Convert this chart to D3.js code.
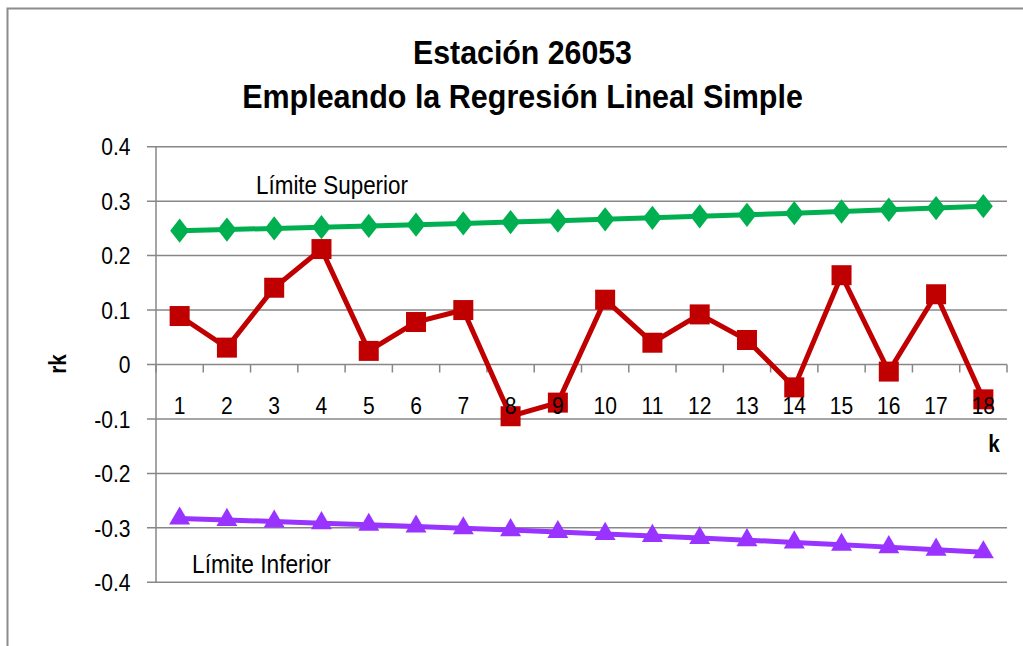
<!DOCTYPE html>
<html>
<head>
<meta charset="utf-8">
<script src="https://cdn.jsdelivr.net/npm/d3@7/dist/d3.min.js"></script>
<style>
  html, body { margin: 0; padding: 0; background: #fff; }
  svg { display: block; }
  text { font-family: "Liberation Sans", Arial, sans-serif; fill: #000; }
</style>
</head>
<body>
<svg id="chart" width="1023" height="646"></svg>
<script>
const categories = ["1","2","3","4","5","6","7","8","9","10","11","12","13","14","15","16","17","18"];
const rk = [0.089, 0.031, 0.141, 0.212, 0.025, 0.078, 0.100, -0.095, -0.070, 0.119, 0.040, 0.092, 0.045, -0.042, 0.164, -0.013, 0.129, -0.064];
const limiteSuperior = [0.2457, 0.2478, 0.2499, 0.2521, 0.2544, 0.2567, 0.2591, 0.2616, 0.2641, 0.2667, 0.2694, 0.2721, 0.2750, 0.2780, 0.2810, 0.2842, 0.2874, 0.2908];
const limiteInferior = [-0.2828, -0.2855, -0.2884, -0.2914, -0.2944, -0.2975, -0.3008, -0.3041, -0.3076, -0.3111, -0.3148, -0.3187, -0.3226, -0.3267, -0.3310, -0.3354, -0.3401, -0.3449];
const yTicks = [-0.4, -0.3, -0.2, -0.1, 0, 0.1, 0.2, 0.3, 0.4];
const yTickLabels = ["-0.4", "-0.3", "-0.2", "-0.1", "0", "0.1", "0.2", "0.3", "0.4"];
const titleLines = ["Estación 26053", "Empleando la Regresión Lineal Simple"];

const svg = d3.select("#chart");
const gray = "#878787";
const NARROW = 0.86;

// helper: put a text at (x,y) horizontally compressed
function place(sel, fx, fy, sx) {
  sel.attr("x", 0).attr("y", 0)
     .attr("transform", (d, i) => `translate(${fx(d, i)},${fy(d, i)}) scale(${sx},1)`);
}
// helper: fit a text to a target width
function fit(t, cxPos, yPos, width) {
  const w = t.node().getComputedTextLength();
  t.attr("x", 0).attr("y", 0).attr("transform", `translate(${cxPos},${yPos}) scale(${width / w},1)`);
}

// outer frame
svg.append("path")
  .attr("d", "M7.5,646 L7.5,8.5 L1023,8.5")
  .attr("fill", "none").attr("stroke", "#8c8c8c").attr("stroke-width", 2);

const plotLeft = 156, plotRight = 1007, plotTop = 146.7, plotBottom = 582.3;
const x = d3.scaleBand().domain(categories).range([plotLeft, plotRight]);
const y = d3.scaleLinear().domain([-0.4, 0.4]).range([plotBottom, plotTop]);

// title
const t1 = svg.append("text").attr("text-anchor", "middle").attr("font-size", 34).attr("font-weight", "bold").text(titleLines[0]);
fit(t1, 522.5, 64, 219);
const t2 = svg.append("text").attr("text-anchor", "middle").attr("font-size", 34).attr("font-weight", "bold").text(titleLines[1]);
fit(t2, 522.5, 108, 561);

// gridlines
svg.append("g").selectAll("line").data(yTicks).join("line")
  .attr("x1", plotLeft - 9).attr("x2", plotRight)
  .attr("y1", d => y(d)).attr("y2", d => y(d))
  .attr("stroke", gray).attr("stroke-width", 1.5);

// y axis line
svg.append("line").attr("x1", plotLeft).attr("x2", plotLeft).attr("y1", plotTop).attr("y2", plotBottom)
  .attr("stroke", gray).attr("stroke-width", 1.5);

// y tick labels
svg.append("g").selectAll("text").data(yTicks).join("text")
  .attr("text-anchor", "end").attr("font-size", 24.5)
  .text((d, i) => yTickLabels[i])
  .call(place, d => 130.5, d => y(d) + 8.7, NARROW);

// x axis at zero with ticks at band boundaries
const y0 = y(0);
const boundaries = categories.map(c => x(c)).concat([plotRight]);
svg.append("g").selectAll("line").data(boundaries).join("line")
  .attr("x1", d => d).attr("x2", d => d)
  .attr("y1", y0).attr("y2", y0 + 8)
  .attr("stroke", gray).attr("stroke-width", 1.5);

// axis titles
svg.append("text").attr("text-anchor", "middle")
  .attr("font-size", 23).attr("font-weight", "bold").text("k")
  .attr("transform", "translate(994,452) scale(0.9,1)");
svg.append("text").attr("transform", "translate(66,364) rotate(-90) scale(0.9,1)")
  .attr("text-anchor", "middle").attr("font-size", 23).attr("font-weight", "bold").text("rk");

const cx = i => x(categories[i]) + x.bandwidth() / 2;
const line = d3.line().x((d, i) => cx(i)).y(d => y(d));

// Límite Superior
const green = "#00B050";
svg.append("path").datum(limiteSuperior).attr("d", line)
  .attr("fill", "none").attr("stroke", green).attr("stroke-width", 5);
svg.append("g").selectAll("path").data(limiteSuperior).join("path")
  .attr("d", d3.symbol(d3.symbolDiamond, 170)())
  .attr("transform", (d, i) => `translate(${cx(i)},${y(d)}) scale(1.35,1)`)
  .attr("fill", green);

// Límite Inferior
const purple = "#9933FF";
svg.append("path").datum(limiteInferior).attr("d", line)
  .attr("fill", "none").attr("stroke", purple).attr("stroke-width", 5);
svg.append("g").selectAll("path").data(limiteInferior).join("path")
  .attr("d", d3.symbol(d3.symbolTriangle, 190)())
  .attr("transform", (d, i) => `translate(${cx(i)},${y(d)})`)
  .attr("fill", purple);

// rk
const red = "#C00000";
svg.append("path").datum(rk).attr("d", line)
  .attr("fill", "none").attr("stroke", red).attr("stroke-width", 5);
svg.append("g").selectAll("rect").data(rk).join("rect")
  .attr("x", (d, i) => cx(i) - 10).attr("y", d => y(d) - 10)
  .attr("width", 20).attr("height", 20)
  .attr("fill", red);

// x tick labels drawn above the series (as in the reference)
svg.append("g").selectAll("text").data(categories).join("text")
  .attr("text-anchor", "middle").attr("font-size", 24.5)
  .text(d => d)
  .call(place, d => x(d) + x.bandwidth() / 2, d => 414, NARROW);

// labels
const ls = svg.append("text").attr("text-anchor", "middle").attr("font-size", 25).text("Límite Superior");
fit(ls, 332, 194, 152);
const li = svg.append("text").attr("text-anchor", "middle").attr("font-size", 25).text("Límite Inferior");
fit(li, 261.5, 573, 139);
</script>
</body>
</html>
